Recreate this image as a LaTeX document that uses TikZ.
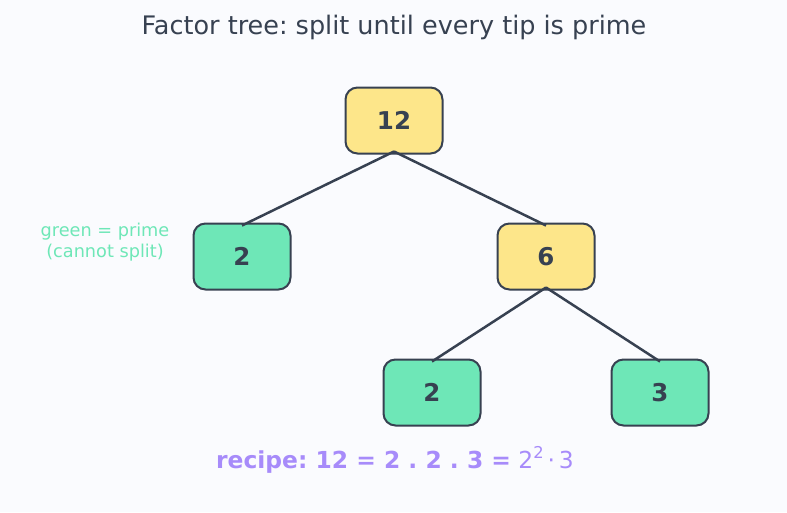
\documentclass[tikz,border=0pt]{standalone}
\usepackage{fontspec}
\setmainfont{DejaVu Sans}
\frenchspacing
\definecolor{bgc}{RGB}{250,251,254}
\definecolor{ink}{RGB}{55,65,81}
\definecolor{yel}{RGB}{253,230,138}
\definecolor{grn}{RGB}{110,231,183}
\definecolor{pur}{RGB}{167,139,250}
\begin{document}
\begin{tikzpicture}[x=1pt,y=-1pt,
  numbox/.style={draw=ink, line width=2pt, rounded corners=12pt, minimum width=97pt, minimum height=66pt, inner sep=0pt, font=\fontsize{24.5}{28}\selectfont\bfseries, text=ink},
  comp/.style={numbox, fill=yel},
  prime/.style={numbox, fill=grn},
  edge/.style={draw=ink, line width=2.5pt}]
\fill[bgc] (0,0) rectangle (787,512);
\useasboundingbox (0,0) rectangle (787,512);
\node[text=ink, font=\fontsize{25.5}{30}\selectfont] (title) at (394,27.5) {Factor tree: split until every tip is prime};
\node[comp] (n12) at (394,120.5) {12};
\node[prime] (n2a) at (242,256.5) {2};
\node[comp] (n6) at (546,256.5) {6};
\node[prime] (n2b) at (432,392.5) {2};
\node[prime] (n3) at (660,392.5) {3};
\draw[edge] ([yshift=3pt]n12.south) -- ([yshift=-3pt]n2a.north);
\draw[edge] ([yshift=3pt]n12.south) -- ([yshift=-3pt]n6.north);
\draw[edge] ([yshift=3pt]n6.south) -- ([yshift=-3pt]n2b.north);
\draw[edge] ([yshift=3pt]n6.south) -- ([yshift=-3pt]n3.north);
\node[text=grn, align=center, font=\fontsize{17.7}{21}\selectfont] (legend) at (105,242) {green = prime\\(cannot split)};
\node[text=pur, font=\fontsize{23.4}{27}\selectfont] (recipe) at (395,460) {\textbf{recipe: 12 = 2 . 2 . 3 =} 2\raisebox{0.45em}{\fontsize{16.3}{18}\selectfont 2}\,·\,3};
\end{tikzpicture}
\end{document}
